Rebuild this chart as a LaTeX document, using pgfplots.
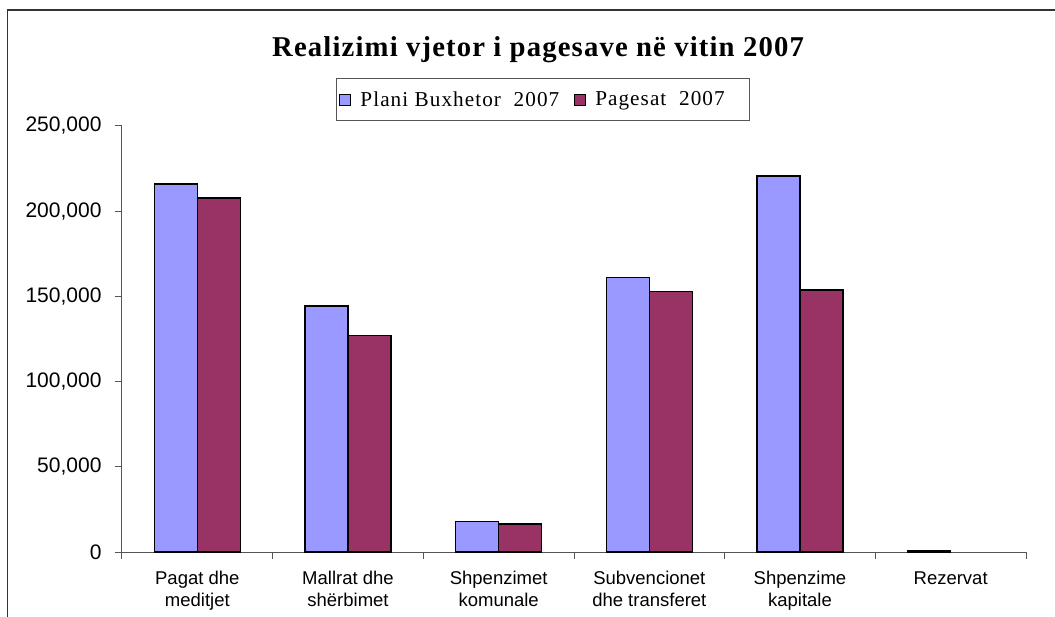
\documentclass[border=0pt]{standalone}
\usepackage{pgfplots}
\pgfplotsset{compat=1.18}
\usepackage{fontspec}
\setmainfont{Liberation Sans}
\newfontfamily\serif[LetterSpace=5]{Liberation Serif}
\newfontfamily\serifbf[LetterSpace=4]{Liberation Serif Bold}
\definecolor{planblue}{HTML}{9999FF}
\definecolor{pagred}{HTML}{993366}
\definecolor{axisgray}{HTML}{555555}
\begin{document}
\begin{tikzpicture}[x=1pt,y=1pt]
\useasboundingbox (0,0) rectangle (1055,616);
\draw[line width=1.5pt, draw=black!80] (7.5,-20) -- (7.5,606) -- (1080,606);
\node[anchor=base, font=\serifbf\fontsize{28.7}{32}\selectfont] at (538,559) {Realizimi vjetor i pagesave në vitin 2007};
\begin{axis}[
  at={(122pt,64pt)}, anchor=south west,
  scale only axis, width=904pt, height=426pt,
  xmin=-0.5, xmax=5.5, ymin=0, ymax=250000,
  axis x line*=bottom, axis y line*=left,
  axis line style={-, draw=axisgray, line width=1pt},
  ytick={0,50000,100000,150000,200000,250000},
  yticklabels={0,{50,000},{100,000},{150,000},{200,000},{250,000}},
  scaled y ticks=false,
  tick align=outside,
  major tick length=7pt, minor tick length=7pt,
  tick style={draw=axisgray, line width=1pt},
  xtick={0,1,2,3,4,5},
  major x tick style={draw=none},
  minor xtick={-0.5,0.5,1.5,2.5,3.5,4.5,5.5},
  xticklabels={{Pagat dhe\\meditjet},{Mallrat dhe\\shërbimet},{Shpenzimet\\komunale},{Subvencionet\\dhe transferet},{Shpenzime\\kapitale},{Rezervat}},
  xticklabel style={align=center, font=\fontsize{18.5}{21.5}\selectfont, yshift=-9pt},
  yticklabel style={font=\fontsize{21}{25}\selectfont, xshift=-10pt},
  ybar, bar width=43pt,
  legend columns=2,
  legend image code/.code={\draw[#1, line width=1pt] (0pt,-5.5pt) rectangle (11pt,5.5pt);},
  legend style={at={(0.2367,1.1127)}, anchor=north west, draw=axisgray, line width=1pt,
    font=\serif\fontsize{21.2}{24}\selectfont, inner xsep=3pt, inner ysep=11pt,
    /tikz/every odd column/.append style={column sep=7pt},
    /tikz/every even column/.append style={column sep=13pt}},
]
\addplot[fill=planblue, draw=black, line width=1.5pt, bar shift=-21.5pt] coordinates {
  (0,216000) (1,144500) (2,17800) (3,161000) (4,220800) (5,800)};
\addlegendentry{Plani Buxhetor\ \ 2007}
\addplot[fill=pagred, draw=black, line width=1.5pt, bar shift=21.5pt] coordinates {
  (0,207700) (1,127000) (2,16400) (3,152800) (4,153800)};
\addlegendentry{Pagesat\ \ 2007\rule{20pt}{0pt}}
\end{axis}
\end{tikzpicture}
\end{document}
